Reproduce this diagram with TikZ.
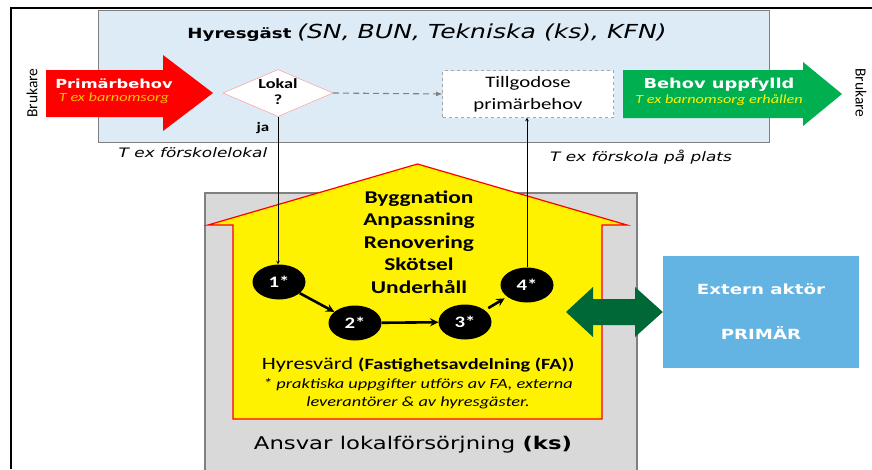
\documentclass[tikz,border=0pt]{standalone}
\usepackage{fontspec}
\setmainfont[FakeStretch=1.3]{Carlito}
\newfontfamily\verd[FakeStretch=1.3]{DejaVu Sans}
\newfontfamily\calin{Carlito}
\usetikzlibrary{shapes.geometric, arrows, calc}
\definecolor{hgblue}{RGB}{221,235,247}
\definecolor{extblue}{RGB}{99,179,227}
\definecolor{okgreen}{RGB}{0,176,80}
\definecolor{dkgreen}{RGB}{0,104,55}
\definecolor{hsgray}{RGB}{217,217,217}
\definecolor{tipyellow}{RGB}{255,192,0}
\tikzstyle{stage} = [ellipse, fill=black, minimum width=53pt, minimum height=35pt, inner sep=0pt, text=white, font=\bfseries\fontsize{16}{18}\selectfont]
\tikzstyle{arrow} = [semithick,->,>=stealth]
\tikzstyle{boldarrow} = [line width=2.6pt,->,>=stealth]
\tikzstyle{txt} = [inner sep=0pt, align=center]

\begin{document}
\begin{tikzpicture}[x=1pt, y=-1pt]
    \useasboundingbox (0,0) rectangle (872,469);
    \draw [line width=2pt] (11,469) -- (11,8) -- (872,8);

    % hyresgast
    \draw [fill=hgblue, draw=gray] (98,10) rectangle (769,142);
    \node (title) [txt] at (427,33) {\verd\fontsize{14}{16}\selectfont\textbf{Hyresgäst} {\fontsize{19.3}{20}\selectfont\itshape (SN, BUN, Tekniska (ks), KFN)}};

    \node (bl) [txt, rotate=90] at (32,93) {\calin\fontsize{15.5}{18}\selectfont Brukare};
    \node (br) [txt, rotate=-90] at (861,93) {\calin\fontsize{15.5}{18}\selectfont Brukare};

    \fill [red] (46,70) -- (163,70) -- (163,55) -- (213,93) -- (163,131) -- (163,117) -- (46,117) -- cycle;
    \node (pb) [txt, text=white] at (114,84) {\verd\bfseries\fontsize{12.5}{15}\selectfont Primärbehov};
    \node (pbt) [txt, text=tipyellow, below=3pt] at (pb.south) {\itshape\fontsize{12.5}{15}\selectfont T ex barnomsorg};

    \fill [okgreen] (623,70) -- (803,70) -- (803,62) -- (842,94) -- (803,126) -- (803,118) -- (623,118) -- cycle;
    \node (bu) [txt, text=white] at (719,85) {\verd\bfseries\fontsize{13.7}{15}\selectfont Behov uppfylld};
    \node (but) [txt, text=yellow, below=3pt] at (bu.south) {\itshape\fontsize{12.5}{15}\selectfont T ex  barnomsorg erhållen};

    \node (lok) [diamond, draw=red!45, fill=white, minimum width=110pt, minimum height=47pt, inner sep=0pt] at (278,93) {};
    \node (lokt) [txt, font=\bfseries\fontsize{14}{16}\selectfont] at (278,92) {Lokal\\?};
    \node (tg) [rectangle, draw=gray!70, dashed, fill=white, minimum width=171pt, minimum height=47pt, txt, font=\fontsize{16}{22}\selectfont] at (528,94) {Tillgodose\\primärbehov};
    \draw [dashed, gray, line width=1.1pt, ->, >=latex, dash pattern=on 6pt off 4pt] (lok.east) -- (tg.west);
    \node (ja) [txt] at (263,128) {\bfseries\fontsize{13}{15}\selectfont ja};

    \node (ex1) [txt] at (193,153) {\verd\itshape\fontsize{13}{15}\selectfont T ex förskolelokal};
    \node (ex2) [txt] at (641,157) {\verd\itshape\fontsize{13}{15}\selectfont T ex förskola på plats};

    % hyresvard
    \draw [fill=hsgray, draw=gray, line width=1.2pt] (205,193) rectangle (637,480);
    \draw [fill=yellow, draw=red, line width=1.2pt] (208,225) -- (417.5,164) -- (627,225) -- (602,225) -- (602,419) -- (233,419) -- (233,225) -- cycle;
    \node (task) [txt, font=\bfseries\fontsize{18}{22.5}\selectfont] at (419,242) {Byggnation\\Anpassning\\Renovering\\Skötsel\\Underhåll};

    \node (1) [stage] at (279,282) {1*};
    \node (2) [stage] at (355,323) {2*};
    \node (3) [stage] at (465,322) {3*};
    \node (4) [stage] at (527,285) {4*};

    \node (fa) [txt] at (418,365) {\fontsize{17.3}{18}\selectfont Hyresvärd \textbf{\fontsize{15.6}{18}\selectfont(Fastighetsavdelning (FA))}};
    \node (note) [txt, font=\itshape\fontsize{14.1}{18}\selectfont] at (418,394) {* praktiska uppgifter utförs av FA, externa\\leverantörer \& av hyresgäster.};
    \node (ks) [txt] at (413,445) {\verd\fontsize{17.5}{20}\selectfont Ansvar lokalförsörjning \textbf{(ks)}};

    % extern
    \node (ext) [rectangle, fill=extblue, minimum width=196pt, minimum height=112pt, txt, text=white, font=\verd\bfseries\fontsize{14}{17}\selectfont] at (761,312) {Extern aktör\\[28pt]PRIMÄR};
    \fill [dkgreen] (566,312) -- (593,287) -- (593,299) -- (635,299) -- (635,287) -- (ext.west) -- (635,337) -- (635,325) -- (593,325) -- (593,337) -- cycle;

    \draw [arrow] (lok.south) -- (lok.south |- 1.north);
    \draw [arrow] (4.north) -- (4.north |- tg.south);
    \draw [boldarrow] (1) -- (2);
    \draw [boldarrow] (2) -- (3);
    \draw [boldarrow, shorten <=4pt, shorten >=3pt] (3) -- (4);
\end{tikzpicture}
\end{document}
